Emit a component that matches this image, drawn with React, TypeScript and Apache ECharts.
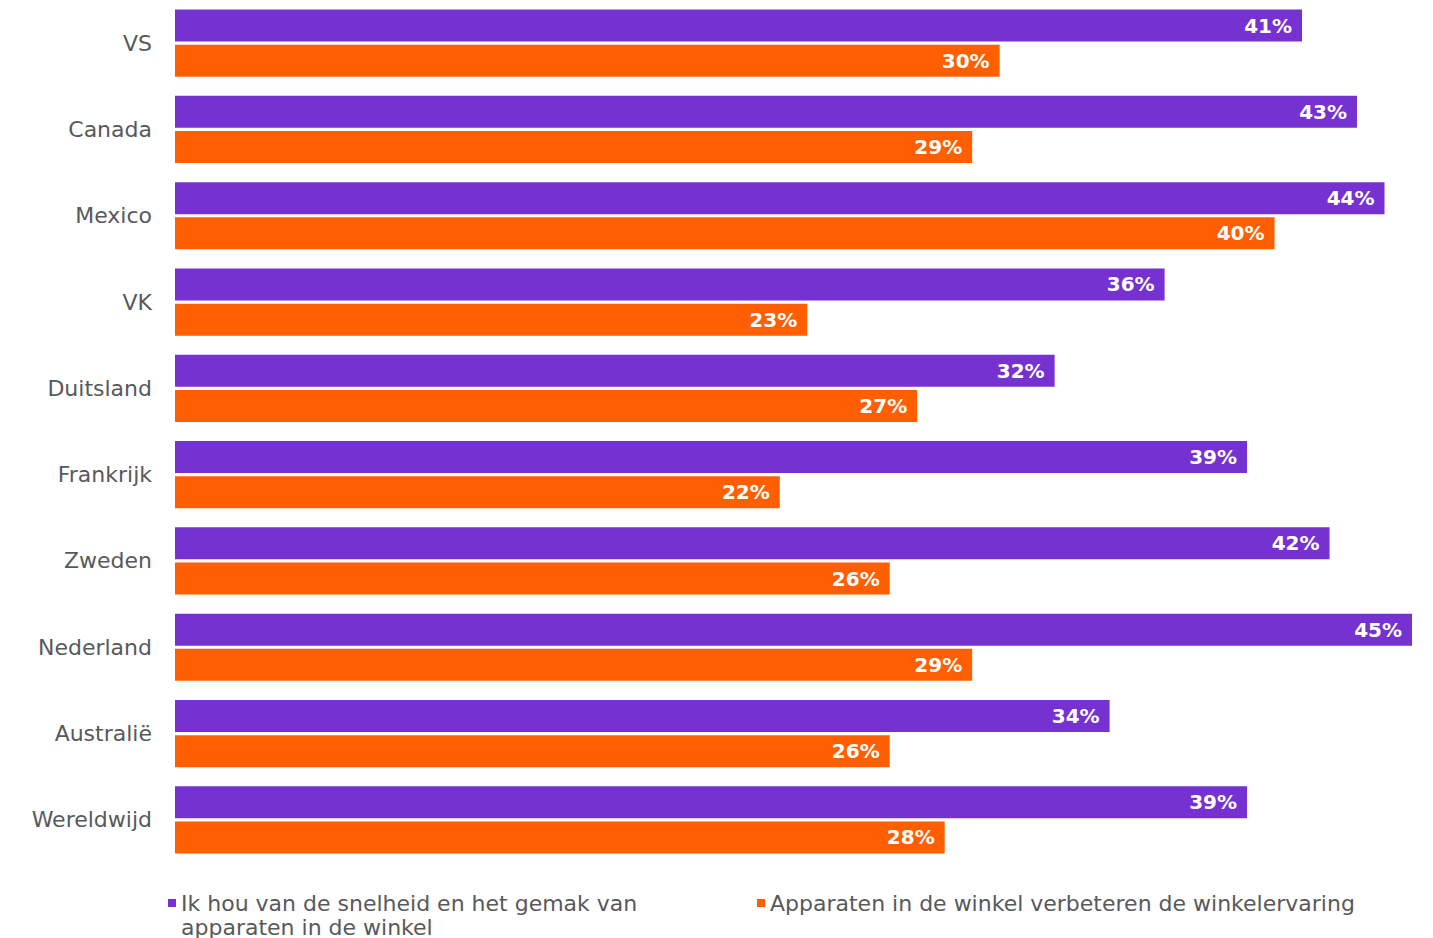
import React, { useEffect, useRef } from "react";
import * as echarts from "echarts";

const categories = ["VS", "Canada", "Mexico", "VK", "Duitsland", "Frankrijk", "Zweden", "Nederland", "Australië", "Wereldwijd"];
const seriesNames = [
  "Ik hou van de snelheid en het gemak van\napparaten in de winkel",
  "Apparaten in de winkel verbeteren de winkelervaring",
];
const speedValues = [41, 43, 44, 36, 32, 39, 42, 45, 34, 39];
const improveValues = [30, 29, 40, 23, 27, 22, 26, 29, 26, 28];

const PURPLE = "#7631D1";
const ORANGE = "#FF5F00";
const GRAY = "#58595B";
const FONT = "'DejaVu Sans', sans-serif";

export default function App() {
  const ref = useRef<HTMLDivElement>(null);
  useEffect(() => {
    if (!ref.current) return;
    const chart = echarts.init(ref.current, undefined, { renderer: "svg" });
    const label = {
      show: true,
      position: "insideRight",
      distance: 10,
      color: "#fff",
      fontFamily: FONT,
      fontWeight: "bold",
      fontSize: 20,
      formatter: "{c}%",
    };
    chart.setOption({
      animation: false,
      grid: { left: 175, right: 21, top: 0, bottom: 75, containLabel: false },
      legend: [
        {
          data: [seriesNames[0]],
          left: 168,
          top: 891,
          padding: 0,
          itemWidth: 8,
          itemHeight: 32,
          icon: "path://M0,0h1v1h-1z M0,3.999h0.001v0.001h-0.001z",
          textStyle: { color: GRAY, fontFamily: FONT, fontSize: 22, lineHeight: 24 },
        },
        {
          data: [seriesNames[1]],
          left: 757,
          top: 891,
          padding: 0,
          itemWidth: 8,
          itemHeight: 8,
          icon: "rect",
          textStyle: { color: GRAY, fontFamily: FONT, fontSize: 22, lineHeight: 24 },
        },
      ],
      xAxis: { type: "value", min: 0, max: 45, show: false },
      yAxis: {
        type: "category",
        data: categories,
        inverse: true,
        axisLine: { show: false },
        axisTick: { show: false },
        splitLine: { show: false },
        axisLabel: { color: GRAY, fontFamily: FONT, fontSize: 22, margin: 23 },
      },
      series: [
        {
          name: seriesNames[0],
          type: "bar",
          data: speedValues,
          barWidth: 32,
          barGap: "10%",
          itemStyle: { color: PURPLE },
          label,
        },
        {
          name: seriesNames[1],
          type: "bar",
          data: improveValues,
          barWidth: 32,
          barGap: "10%",
          itemStyle: { color: ORANGE },
          label,
        },
      ],
    });
    return () => chart.dispose();
  }, []);
  return <div ref={ref} style={{ width: 1433, height: 938, position: "absolute", left: 0, top: 0 }} />;
}
